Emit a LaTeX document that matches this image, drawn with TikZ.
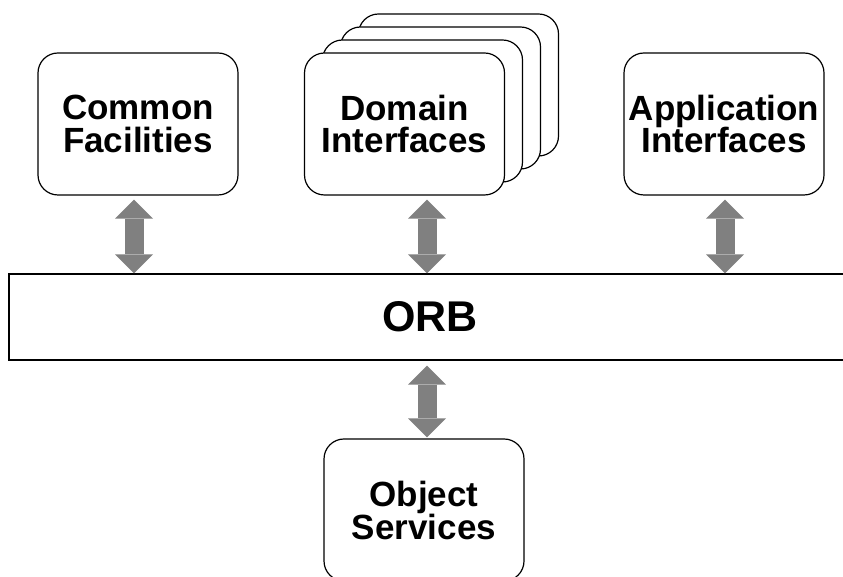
\documentclass[tikz,border=0pt]{standalone}
\usepackage{fontspec}
\setmainfont{Liberation Sans}
\usetikzlibrary{arrows.meta, calc}
\begin{document}
\begin{tikzpicture}[x=1pt, y=1pt]
	\tikzset{boite/.style={rectangle, rounded corners=20pt, draw=black, line width=1.2pt, fill=white, minimum width=200pt, minimum height=142pt, inner sep=2pt, align=center, font=\fontsize{35}{33}\selectfont\bfseries},
		bus/.style={rectangle, draw=black, line width=1.2pt, fill=white, minimum width=842pt, minimum height=86pt, font=\fontsize{43}{43}\selectfont\bfseries},
		fleche/.style={>={Triangle[length=19pt, width=38pt, line width=0pt]}, <->, gray, line width=19pt}};
	\clip (0,0) rectangle (843,577);

	% pile des interfaces de domaine, de l'arriere vers l'avant
	\foreach \k in {3,2,1}
		\node[boite] (dom\k) at ({404.5+18*\k}, {453+13*\k}) {};
	\node[boite] (cf) at (138, 453) {Common\\Facilities};
	\node[boite] (dom) at (404.5, 453) {Domain\\Interfaces};
	\node[boite] (app) at (724, 453) {Application\\Interfaces};
	\node[bus] (orb) at (430, 260) {ORB};
	\node[boite] (os) at (424, 67) {Object\\Services};

	\draw[fleche] ($(cf.south)+(-4,-4)$) -- ($(cf.south |- orb.north)+(-4,0)$);
	\draw[fleche] ($(orb.north |- dom.south)+(-3,-4)$) -- ($(orb.north)+(-3,0)$);
	\draw[fleche] ($(app.south)+(1,-4)$) -- ($(app.south |- orb.north)+(1,0)$);
	\draw[fleche] ($(orb.south)+(-3,-5)$) -- ($(os.north)+(3,1)$);
\end{tikzpicture}
\end{document}
